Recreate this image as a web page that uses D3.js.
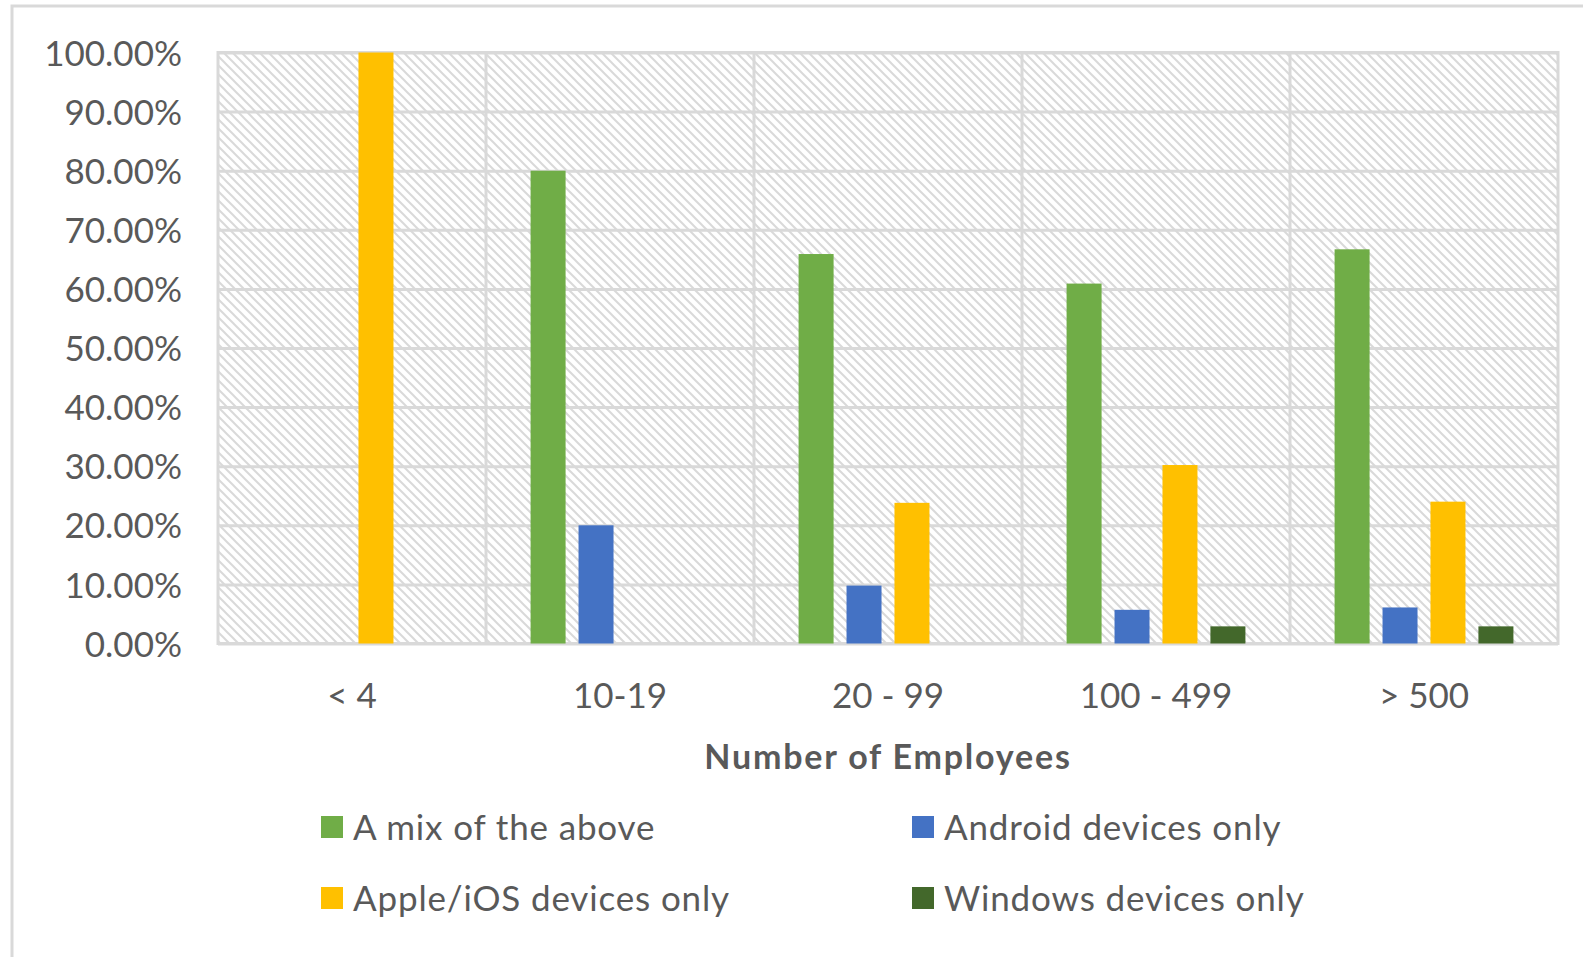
<!DOCTYPE html>
<html>
<head>
<meta charset="utf-8">
<script src="https://cdn.jsdelivr.net/npm/d3@7"></script>
<style>
body{margin:0;background:#fff;}
text{font-family:Lato,"Open Sans",sans-serif;}
</style>
</head>
<body>
<div id="chart"></div>
<script>
var categories=["< 4","10-19","20 - 99","100 - 499","> 500"];
var series=["A mix of the above","Android devices only","Apple/iOS devices only","Windows devices only"];
var mixVals=[0,80,65.9,60.9,66.7];
var androidVals=[0,20,9.8,5.7,6.1];
var appleVals=[100,0,23.8,30.2,24.0];
var windowsVals=[0,0,0,2.9,2.9];
var yTicks=[0,10,20,30,40,50,60,70,80,90,100];
var colors=["#70ad47","#4472c4","#ffc000","#43682b"];

var svg_width=1583
	svg_height=957
	plot_left=218
	plot_top=52.5
	plot_right=1558
	plot_bottom=643.5
	grid_col="#d9d9d9"
	text_col="#595959";

var allVals=[mixVals,androidVals,appleVals,windowsVals];

var svg=d3.select("#chart").append("svg")
		.attr("width",svg_width)
		.attr("height",svg_height);

// hatch fill of the plot area
var pat=svg.append("defs").append("pattern")
		.attr("id","hatch")
		.attr("patternUnits","userSpaceOnUse")
		.attr("width",9)
		.attr("height",9);
pat.append("rect").attr("width",9).attr("height",9).attr("fill","#fff");
pat.append("path")
		.attr("d","M0,0L9,9M-2,7L2,11M7,-2L11,2")
		.attr("stroke","#d9d9d9")
		.attr("stroke-width",2);

// chart frame
svg.append("rect")
		.attr("x",12).attr("y",6)
		.attr("width",svg_width+20).attr("height",svg_height+20)
		.attr("fill","none")
		.attr("stroke",grid_col)
		.attr("stroke-width",3);

var x0=d3.scaleBand()
		.domain(categories)
		.range([plot_left,plot_right]);

var x1=d3.scaleBand()
		.domain(series)
		.range([0,x0.bandwidth()])
		.paddingInner(0.27)
		.paddingOuter(0.93);

var y=d3.scaleLinear()
		.domain([0,100])
		.range([plot_bottom,plot_top]);

svg.append("rect")
		.attr("x",plot_left).attr("y",plot_top)
		.attr("width",plot_right-plot_left).attr("height",plot_bottom-plot_top)
		.attr("fill","url(#hatch)");

// horizontal grid
var grid=svg.append("g")
		.attr("transform","translate("+plot_left+",0)")
		.call(d3.axisLeft(y).tickValues(yTicks).tickSize(-(plot_right-plot_left)).tickFormat(""));
grid.select(".domain").remove();
grid.selectAll("line").attr("stroke",grid_col).attr("stroke-width",3);

// vertical lines between categories
svg.append("g").selectAll("line")
		.data(categories.slice(1))
		.join("line")
		.attr("x1",function(d){return x0(d);})
		.attr("x2",function(d){return x0(d);})
		.attr("y1",plot_top).attr("y2",plot_bottom)
		.attr("stroke",grid_col)
		.attr("stroke-width",3);

svg.append("rect")
		.attr("x",plot_left).attr("y",plot_top)
		.attr("width",plot_right-plot_left).attr("height",plot_bottom-plot_top)
		.attr("fill","none")
		.attr("stroke",grid_col)
		.attr("stroke-width",3);

// bars
series.forEach(function(s,si){
	svg.append("g").selectAll("rect")
		.data(categories)
		.join("rect")
		.attr("x",function(c){return x0(c)+x1(s);})
		.attr("width",x1.bandwidth())
		.attr("y",function(c,i){return y(allVals[si][i]);})
		.attr("height",function(c,i){return y(0)-y(allVals[si][i]);})
		.attr("fill",colors[si]);
});

// y axis labels
var yax=svg.append("g")
		.attr("transform","translate(182,0)")
		.call(d3.axisLeft(y).tickValues(yTicks).tickSize(0).tickPadding(0)
			.tickFormat(function(d){return d.toFixed(2)+"%";}));
yax.select(".domain").remove();
yax.selectAll("text")
		.attr("font-size","35px")
		.attr("font-family","Lato")
		.attr("fill",text_col)
		.attr("dy","0.36em");

// x axis labels
var xax=svg.append("g")
		.attr("transform","translate(0,"+plot_bottom+")")
		.call(d3.axisBottom(x0).tickSize(0).tickPadding(0));
xax.select(".domain").remove();
xax.selectAll("text")
		.attr("y",64)
		.attr("dy",0)
		.attr("font-size","35px")
		.attr("font-family","Lato")
		.attr("fill",text_col);

svg.append("text")
		.attr("x",(plot_left+plot_right)/2)
		.attr("y",769)
		.attr("text-anchor","middle")
		.attr("font-size","34px")
		.attr("font-weight","bold")
		.attr("letter-spacing","1.8px")
		.attr("fill",text_col)
		.text("Number of Employees");

// legend
var leg_x=[321,912]
	leg_y=[827,898];

var leg=svg.append("g").selectAll("g")
		.data(series)
		.join("g")
		.attr("transform",function(d,i){return "translate("+leg_x[i%2]+","+leg_y[Math.floor(i/2)]+")";});
leg.append("rect")
		.attr("x",0).attr("y",-11)
		.attr("width",22).attr("height",22)
		.attr("fill",function(d,i){return colors[i];});
leg.append("text")
		.attr("x",32)
		.attr("y",0)
		.attr("dy","0.36em")
		.attr("font-size","35px")
		.attr("letter-spacing","0.85px")
		.attr("fill",text_col)
		.text(function(d){return d;});
</script>
</body>
</html>
